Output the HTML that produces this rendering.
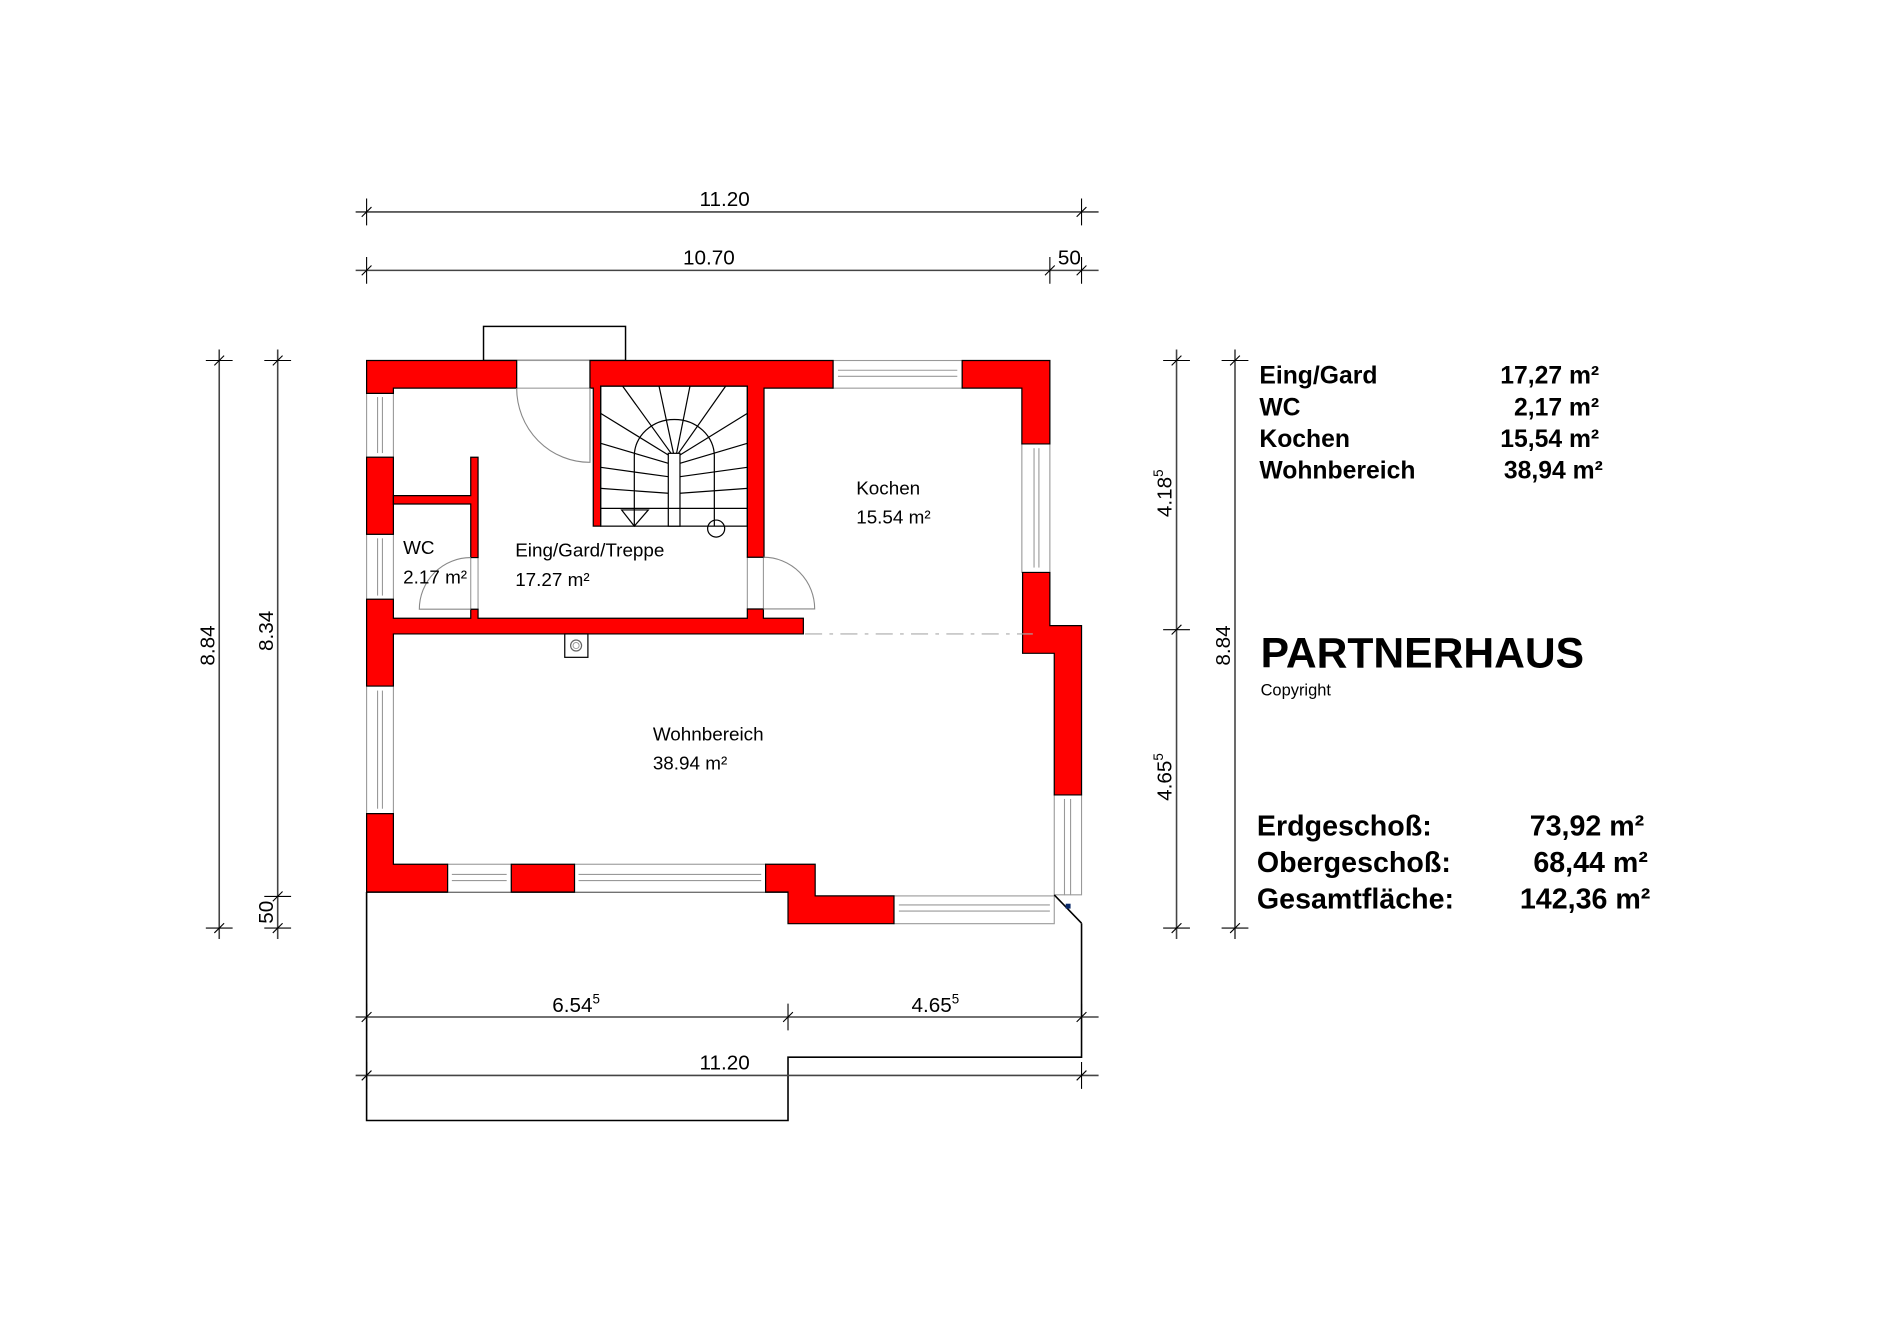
<!DOCTYPE html>
<html><head><meta charset="utf-8"><style>
html,body{margin:0;padding:0;background:#fff;}
svg{display:block;}
text{font-family:"Liberation Sans",Arial,sans-serif;fill:#000;}
</style></head><body>
<svg width="1900" height="1344" viewBox="0 0 1560 1103.5" preserveAspectRatio="none" xmlns="http://www.w3.org/2000/svg">
<rect width="1560" height="1103.5" fill="#fff"/>

<rect x="397" y="268" width="116.6" height="28" fill="#fff" stroke="#000" stroke-width="1.2"/>

<path d="M301 732.4 V920 H647 V868 H888 V758" fill="none" stroke="#000" stroke-width="1.3"/>
<line x1="301" y1="732.4" x2="647" y2="732.4" stroke="#000" stroke-width="1.3"/>

<g fill="#fff" stroke="#999" stroke-width="0.9">
 <rect x="684" y="296" width="106" height="22.7"/>
 <line x1="688" y1="304" x2="786" y2="304"/><line x1="688" y1="309" x2="786" y2="309"/>
 <rect x="839" y="364.5" width="23" height="105.5"/>
 <line x1="849" y1="368" x2="849" y2="466"/><line x1="853" y1="368" x2="853" y2="466"/>
 <rect x="301" y="323" width="22" height="52.4"/>
 <line x1="310" y1="326" x2="310" y2="372"/><line x1="314" y1="326" x2="314" y2="372"/>
 <rect x="301" y="438.7" width="22" height="53.3"/>
 <line x1="310" y1="442" x2="310" y2="489"/><line x1="314" y1="442" x2="314" y2="489"/>
 <rect x="301" y="563.3" width="22" height="104.7"/>
 <line x1="310" y1="567" x2="310" y2="664"/><line x1="314" y1="567" x2="314" y2="664"/>
 <rect x="367.5" y="709.6" width="52.3" height="22.8"/>
 <line x1="371" y1="718" x2="416" y2="718"/><line x1="371" y1="723" x2="416" y2="723"/>
 <rect x="471.7" y="709.6" width="156.9" height="22.8"/>
 <line x1="475" y1="718" x2="625" y2="718"/><line x1="475" y1="723" x2="625" y2="723"/>
 <rect x="734" y="735.6" width="131.6" height="22.8"/>
 <line x1="738" y1="743" x2="862" y2="743"/><line x1="738" y1="748" x2="862" y2="748"/>
 <rect x="865.6" y="652.7" width="22.4" height="82"/>
 <line x1="874" y1="656" x2="874" y2="735"/><line x1="879" y1="656" x2="879" y2="735"/>
 <rect x="613.6" y="457.5" width="13.2" height="42.5"/>
 <rect x="386.5" y="457.8" width="6" height="42.4"/>
 <rect x="424.2" y="296" width="60.2" height="22.7"/>
</g>
<path d="M865.6 734.8 L888 758" stroke="#000" stroke-width="1.3"/>
<rect x="875" y="742" width="4" height="4" fill="#0a2a6a"/>

<g fill="#ff0000" stroke="#000" stroke-width="1">
 <path d="M301 296 H424.2 V318.7 H323 V323 H301 Z"/>
 <path d="M484.4 296 H684 V318.7 H627.3 V457.5 H613.6 V317 H493.2 V432 H487.1 V318.7 H484.4 Z"/>
 <path d="M790 296 H862 V364.5 H839 V318.7 H790 Z"/>
 <rect x="301" y="375.4" width="22" height="63.3"/>
 <path d="M323 406.9 H386.5 V375.4 H392.5 V457.8 H386.5 V413.8 H323 Z"/>
 <path d="M301 492 H323 V507.6 H386.5 V500.2 H392.5 V507.6 H613.6 V500 H626.8 V507.6 H659.6 V520.5 H323 V563.3 H301 Z"/>
 <path d="M839.6 470 H862 V513.7 H888 V652.7 H865.6 V536.4 H839.6 Z"/>
 <path d="M301 668 H323 V709.6 H367.5 V732.4 H301 Z"/>
 <rect x="419.8" y="709.6" width="51.9" height="22.8"/>
 <path d="M628.6 709.6 H669.3 V735.6 H734 V758.4 H647 V732.4 H628.6 Z"/>
</g>

<g fill="none" stroke="#888" stroke-width="0.9">
 <path d="M484.4 318.7 V379.6 A60 61 0 0 1 424.2 318.7"/>
 <path d="M386.5 500.2 H344.3 A42.2 42.4 0 0 1 386.5 457.8"/>
 <path d="M626.8 457.5 A42.1 42.5 0 0 1 668.9 500 H626.8"/>
</g>
<line x1="661" y1="520.5" x2="848" y2="520.5" stroke="#aaa" stroke-width="1" stroke-dasharray="14,6,3,6"/>

<rect x="463.7" y="520.5" width="19" height="19.2" fill="#fff" stroke="#000" stroke-width="1"/>
<circle cx="473" cy="530" r="4.5" fill="none" stroke="#666" stroke-width="1"/>
<circle cx="473" cy="530" r="2.5" fill="none" stroke="#999" stroke-width="0.8"/>

<g fill="none" stroke="#000" stroke-width="1">
 <rect x="493.2" y="317" width="120.4" height="115"/>
 <rect x="548.7" y="372.2" width="9.6" height="59.8" fill="#fff"/>
 <path d="M520.8 432 V374.4 A32.85 30 0 0 1 586.5 374.4 V432"/>
 <line x1="511.2" y1="317" x2="551" y2="372.2"/>
 <line x1="541.1" y1="317" x2="553" y2="372.2"/>
 <line x1="566.5" y1="317" x2="555.5" y2="372.2"/>
 <line x1="595.8" y1="317" x2="557" y2="372.2"/>
 <line x1="493.2" y1="339.4" x2="548.7" y2="373.6"/>
 <line x1="493.2" y1="364" x2="548.7" y2="380.4"/>
 <line x1="493.2" y1="383.7" x2="548.7" y2="391.4"/>
 <line x1="493.2" y1="401" x2="548.7" y2="405"/>
 <line x1="613.6" y1="339.4" x2="558.3" y2="373.6"/>
 <line x1="613.6" y1="364" x2="558.3" y2="380.4"/>
 <line x1="613.6" y1="383.7" x2="558.3" y2="391.4"/>
 <line x1="613.6" y1="401" x2="558.3" y2="405"/>
 <line x1="493.2" y1="417.4" x2="613.6" y2="417.4"/>
 <path d="M510.4 418.7 H532.3 L520.8 432 Z"/>
 <circle cx="588" cy="434" r="7"/>
</g>

<g font-size="15.5">
 <text x="703" y="406">Kochen</text><text x="703" y="430">15.54 m²</text>
 <text x="331" y="455">WC</text><text x="331" y="479">2.17 m²</text>
 <text x="423" y="457">Eing/Gard/Treppe</text><text x="423" y="481">17.27 m²</text>
 <text x="536" y="608">Wohnbereich</text><text x="536" y="632">38.94 m²</text>
</g>

<g stroke="#444" stroke-width="1.3" fill="none">
 <line x1="292" y1="174" x2="902" y2="174"/>
 <line x1="292" y1="222" x2="902" y2="222"/>
 <line x1="292" y1="835" x2="902" y2="835"/>
 <line x1="292" y1="883" x2="902" y2="883"/>
 <line x1="180" y1="287" x2="180" y2="771"/>
 <line x1="228" y1="287" x2="228" y2="771"/>
 <line x1="966" y1="287" x2="966" y2="771"/>
 <line x1="1014" y1="287" x2="1014" y2="771"/>
</g>
<g stroke="#000" stroke-width="0.9">
 <path d="M301 163v22M297 178l8-8 M888 163v22M884 178l8-8"/>
 <path d="M301 211v22M297 226l8-8 M862 211v22M858 226l8-8 M888 211v22M884 226l8-8"/>
 <path d="M301 824v22M297 839l8-8 M647 824v22M643 839l8-8 M888 824v22M884 839l8-8"/>
 <path d="M301 872v22M297 887l8-8 M888 872v22M884 887l8-8"/>
 <path d="M169 296h22M176 300l8-8 M169 762h22M176 766l8-8"/>
 <path d="M217 296h22M224 300l8-8 M217 736h22M224 740l8-8 M217 762h22M224 766l8-8"/>
 <path d="M955 296h22M962 300l8-8 M955 517h22M962 521l8-8 M955 762h22M962 766l8-8"/>
 <path d="M1003 296h22M1010 300l8-8 M1003 762h22M1010 766l8-8"/>
</g>
<g font-size="17">
 <text x="595" y="169" text-anchor="middle">11.20</text>
 <text x="582" y="217" text-anchor="middle">10.70</text>
 <text x="878" y="217" text-anchor="middle">50</text>
 <text x="473" y="831" text-anchor="middle">6.54<tspan font-size="11" dy="-7">5</tspan></text>
 <text x="768" y="831" text-anchor="middle">4.65<tspan font-size="11" dy="-7">5</tspan></text>
 <text x="595" y="878" text-anchor="middle">11.20</text>
 <text transform="translate(176,530) rotate(-90)" text-anchor="middle">8.84</text>
 <text transform="translate(224,518) rotate(-90)" text-anchor="middle">8.34</text>
 <text transform="translate(224,749) rotate(-90)" text-anchor="middle">50</text>
 <text transform="translate(962,405) rotate(-90)" text-anchor="middle">4.18<tspan font-size="11" dy="-7">5</tspan></text>
 <text transform="translate(962,638) rotate(-90)" text-anchor="middle">4.65<tspan font-size="11" dy="-7">5</tspan></text>
 <text transform="translate(1010,530) rotate(-90)" text-anchor="middle">8.84</text>
</g>

<g font-size="20.3" font-weight="bold">
 <text x="1034" y="315">Eing/Gard</text><text x="1313" y="315" text-anchor="end">17,27 m²</text>
 <text x="1034" y="341">WC</text><text x="1313" y="341" text-anchor="end">2,17 m²</text>
 <text x="1034" y="367">Kochen</text><text x="1313" y="367" text-anchor="end">15,54 m²</text>
 <text x="1034" y="393">Wohnbereich</text><text x="1316" y="393" text-anchor="end">38,94 m²</text>
</g>
<text x="1035" y="548" font-size="35" font-weight="bold">PARTNERHAUS</text>
<text x="1035" y="571" font-size="13.5">Copyright</text>
<g font-size="23.5" font-weight="bold">
 <text x="1032" y="686">Erdgeschoß:</text><text x="1350" y="686" text-anchor="end">73,92 m²</text>
 <text x="1032" y="716">Obergeschoß:</text><text x="1353" y="716" text-anchor="end">68,44 m²</text>
 <text x="1032" y="746">Gesamtfläche:</text><text x="1355" y="746" text-anchor="end">142,36 m²</text>
</g>
</svg>
</body></html>
